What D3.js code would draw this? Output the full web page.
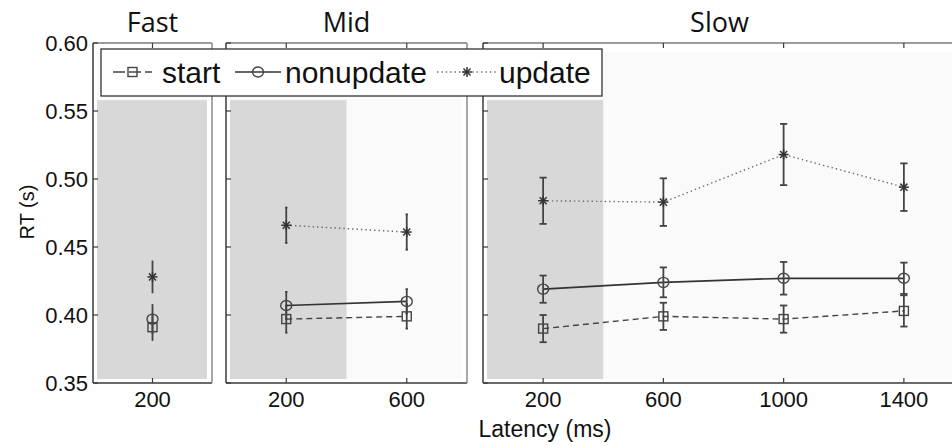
<!DOCTYPE html>
<html><head><meta charset="utf-8">
<script src="https://cdn.jsdelivr.net/npm/d3@7/dist/d3.min.js"></script>
<style>body{margin:0;background:#fff}svg{display:block}</style>
</head><body>
<svg id="chart" width="952" height="446"></svg>
<script>
// ---------- data ----------
const panelNames = ["Fast", "Mid", "Slow"];
const panelMaxLatency = [400, 800, 1600];
const fastLatency = [200];
const midLatency = [200, 600];
const slowLatency = [200, 600, 1000, 1400];
const shadedLatency = [0, 400];

const seriesNames = ["start", "nonupdate", "update"];

const startFast = [0.391];
const startFastErr = [0.010];
const startMid = [0.397, 0.399];
const startMidErr = [0.010, 0.009];
const startSlow = [0.390, 0.399, 0.397, 0.403];
const startSlowErr = [0.010, 0.010, 0.010, 0.0115];

const nonupdateFast = [0.397];
const nonupdateFastErr = [0.011];
const nonupdateMid = [0.407, 0.410];
const nonupdateMidErr = [0.010, 0.009];
const nonupdateSlow = [0.419, 0.424, 0.427, 0.427];
const nonupdateSlowErr = [0.010, 0.011, 0.012, 0.0115];

const updateFast = [0.428];
const updateFastErr = [0.012];
const updateMid = [0.466, 0.461];
const updateMidErr = [0.013, 0.013];
const updateSlow = [0.484, 0.483, 0.518, 0.494];
const updateSlowErr = [0.017, 0.0175, 0.0225, 0.0175];

const yTicks = [0.35, 0.40, 0.45, 0.50, 0.55, 0.60];
const yDomain = [0.35, 0.60];
const shadeTop = 0.558;

const xLabel = "Latency (ms)";
const yLabel = "RT (s)";

// ---------- layout ----------
const svg = d3.select("#chart");
const plotTop = 43, plotBottom = 383;
const panelX = [[93, 212], [226, 467], [483, 964]];
const y = d3.scaleLinear().domain(yDomain).range([plotBottom, plotTop]);
const frameDark = "#3a3a3a", frameLight = "#8a8a8a";
const tickFont = "'Liberation Sans', Arial, sans-serif";

const latencies = [fastLatency, midLatency, slowLatency];
const seriesData = [
  [[startFast, startFastErr], [startMid, startMidErr], [startSlow, startSlowErr]],
  [[nonupdateFast, nonupdateFastErr], [nonupdateMid, nonupdateMidErr], [nonupdateSlow, nonupdateSlowErr]],
  [[updateFast, updateFastErr], [updateMid, updateMidErr], [updateSlow, updateSlowErr]]
];
const lineStyle = [
  {stroke: "#444", width: 1.4, dash: "6,4"},
  {stroke: "#333", width: 1.7, dash: null},
  {stroke: "#6a6a6a", width: 1.4, dash: "1.4,3"}
];

function drawMarker(g, kind, cx, cy) {
  if (kind === 0) {
    g.append("rect").attr("x", cx - 4.5).attr("y", cy - 4.5).attr("width", 9).attr("height", 9)
      .attr("fill", "none").attr("stroke", "#444").attr("stroke-width", 1.4);
  } else if (kind === 1) {
    g.append("ellipse").attr("cx", cx).attr("cy", cy).attr("rx", 5.5).attr("ry", 5)
      .attr("fill", "none").attr("stroke", "#444").attr("stroke-width", 1.4);
  } else {
    const r = 5;
    [0, 45, 90, 135].forEach(a => {
      const t = a * Math.PI / 180;
      g.append("line").attr("x1", cx - r * Math.cos(t)).attr("y1", cy - r * Math.sin(t))
        .attr("x2", cx + r * Math.cos(t)).attr("y2", cy + r * Math.sin(t))
        .attr("stroke", "#333").attr("stroke-width", 1.5);
    });
  }
}

panelNames.forEach((name, p) => {
  const [x0, x1] = panelX[p];
  const x = d3.scaleLinear().domain([0, panelMaxLatency[p]]).range([x0, x1]);
  const g = svg.append("g");
  const clipId = "clip" + p;
  svg.append("clipPath").attr("id", clipId).append("rect")
    .attr("x", x0).attr("y", plotTop).attr("width", Math.min(x1, 952) - x0).attr("height", plotBottom - plotTop);
  const inner = g.append("g").attr("clip-path", `url(#${clipId})`);

  // backgrounds
  const lx0 = x0 + 4, lx1 = x1 - 5, ly0 = plotTop + 9, ly1 = plotBottom - 4;
  inner.append("rect").attr("x", lx0).attr("y", ly0).attr("width", lx1 - lx0).attr("height", ly1 - ly0)
    .attr("fill", "#fafafa");
  const gx0 = Math.max(lx0, x(shadedLatency[0])), gx1 = Math.min(lx1, x(shadedLatency[1]));
  inner.append("rect").attr("x", gx0).attr("y", y(shadeTop)).attr("width", gx1 - gx0)
    .attr("height", ly1 - y(shadeTop)).attr("fill", "#d8d8d8");

  // frame
  g.append("line").attr("x1", x0).attr("x2", x1).attr("y1", plotTop).attr("y2", plotTop).attr("stroke", frameDark).attr("stroke-width", 1.2);
  g.append("line").attr("x1", x0).attr("x2", x1).attr("y1", plotBottom).attr("y2", plotBottom).attr("stroke", frameDark).attr("stroke-width", 1.5);
  g.append("line").attr("x1", x0).attr("x2", x0).attr("y1", plotTop).attr("y2", plotBottom).attr("stroke", frameDark).attr("stroke-width", 1.5);
  g.append("line").attr("x1", x1).attr("x2", x1).attr("y1", plotTop).attr("y2", plotBottom).attr("stroke", frameLight).attr("stroke-width", 1.5);

  // x ticks (inward top & bottom) + labels
  const xt = latencies[p];
  xt.forEach(v => {
    g.append("line").attr("x1", x(v)).attr("x2", x(v)).attr("y1", plotBottom).attr("y2", plotBottom - 5).attr("stroke", frameDark).attr("stroke-width", 1.2);
    g.append("line").attr("x1", x(v)).attr("x2", x(v)).attr("y1", plotTop).attr("y2", plotTop + 5).attr("stroke", frameDark).attr("stroke-width", 1.2);
    g.append("text").attr("x", x(v)).attr("y", 407).attr("text-anchor", "middle")
      .attr("font-family", tickFont).attr("font-size", 22).attr("fill", "#111").text(v);
  });
  // y ticks inward
  yTicks.forEach(v => {
    g.append("line").attr("x1", x0).attr("x2", x0 + 5).attr("y1", y(v)).attr("y2", y(v)).attr("stroke", frameDark).attr("stroke-width", 1.2);
  });

  // series
  seriesData.forEach((s, si) => {
    const vals = s[p][0], errs = s[p][1];
    const pts = latencies[p].map((l, i) => ({l, v: vals[i], e: errs[i]}));
    const st = lineStyle[si];
    if (pts.length > 1) {
      const line = d3.line().x(d => x(d.l)).y(d => y(d.v));
      g.append("path").attr("d", line(pts)).attr("fill", "none").attr("stroke", st.stroke)
        .attr("stroke-width", st.width).attr("stroke-dasharray", st.dash);
    }
    const xs = latencies[p];
    const capHalf = 0.01 * (d3.max(xs) - d3.min(xs));
    pts.forEach(d => {
      g.append("line").attr("x1", x(d.l)).attr("x2", x(d.l)).attr("y1", y(d.v - d.e)).attr("y2", y(d.v + d.e))
        .attr("stroke", "#444").attr("stroke-width", 1.8);
      if (capHalf > 0) {
        [d.v - d.e, d.v + d.e].forEach(yy => {
          g.append("line").attr("x1", x(d.l - capHalf)).attr("x2", x(d.l + capHalf)).attr("y1", y(yy)).attr("y2", y(yy))
            .attr("stroke", "#444").attr("stroke-width", 1.8);
        });
      }
      drawMarker(g, si, x(d.l), y(d.v));
    });
  });

  // title
  svg.append("text").attr("x", (x0 + Math.min(x1, 964)) / 2 - (p === 2 ? 4 : 0)).attr("y", 32).attr("text-anchor", "middle")
    .attr("font-family", "'Open Sans', sans-serif").attr("font-size", 27).attr("fill", "#111").text(name);
});

// y tick labels (first panel only)
const fmt = d3.format(".2f");
yTicks.forEach(v => {
  svg.append("text").attr("x", 88).attr("y", y(v)).attr("dy", "0.36em").attr("text-anchor", "end")
    .attr("font-family", tickFont).attr("font-size", 22).attr("fill", "#111").text(fmt(v));
});

// axis labels
svg.append("text").attr("x", 545).attr("y", 437).attr("text-anchor", "middle")
  .attr("font-family", tickFont).attr("font-size", 23).attr("fill", "#111").text(xLabel);
svg.append("text").attr("transform", "translate(34,212) rotate(-90)").attr("text-anchor", "middle")
  .attr("font-family", tickFont).attr("font-size", 20).attr("fill", "#111").text(yLabel);

// legend
const leg = svg.append("g");
leg.append("rect").attr("x", 101).attr("y", 49).attr("width", 501).attr("height", 47)
  .attr("fill", "#fff").attr("stroke", "#333").attr("stroke-width", 1.3);
const legItems = [
  {x1: 113, x2: 152, tx: 162},
  {x1: 235, x2: 281, tx: 285},
  {x1: 437, x2: 497, tx: 499}
];
seriesNames.forEach((n, i) => {
  const it = legItems[i], st = lineStyle[i], cy = 72;
  leg.append("line").attr("x1", it.x1).attr("x2", it.x2).attr("y1", cy).attr("y2", cy)
    .attr("stroke", st.stroke).attr("stroke-width", st.width).attr("stroke-dasharray", i === 0 ? "12,4" : st.dash);
  drawMarker(leg, i, (it.x1 + it.x2) / 2, cy);
  leg.append("text").attr("x", it.tx).attr("y", 83).attr("font-family", tickFont).attr("font-size", 30)
    .attr("fill", "#111").text(n);
});
</script>
</body></html>
